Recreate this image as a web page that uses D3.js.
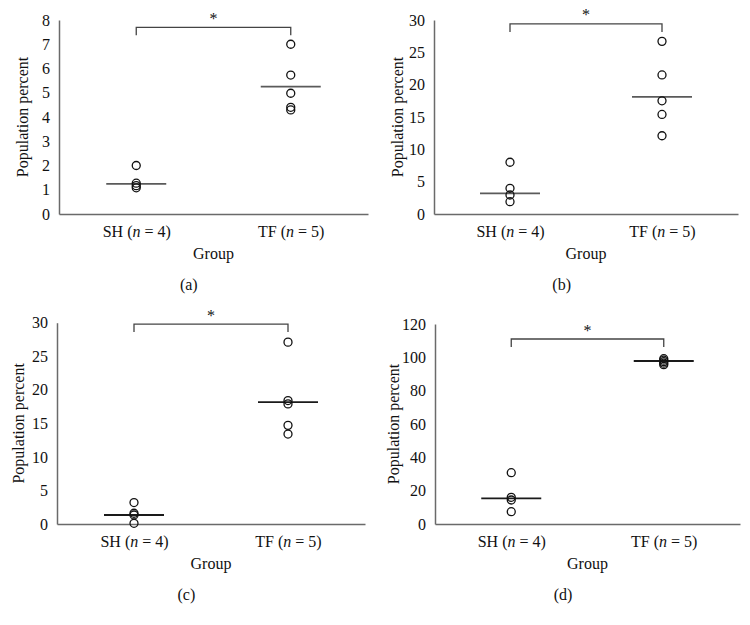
<!DOCTYPE html>
<html>
<head>
<meta charset="utf-8">
<script src="https://cdn.jsdelivr.net/npm/d3@7"></script>
<style>
body{margin:0;background:#fff;}
svg{display:block;font-family:"Liberation Serif","Times New Roman",serif;}
</style>
</head>
<body>
<svg id="chart" width="750" height="625"></svg>
<script>
// ---- data ----
const groups = ["SH", "TF"];
const groupN = [4, 5];
const panelLetters = ["a", "b", "c", "d"];
const yMax = [8, 30, 30, 120];
const yTickStep = [1, 5, 5, 20];
const shValues = [
  [2.0, 1.27, 1.17, 1.08],
  [8.0, 3.97, 2.94, 1.9],
  [3.2, 1.6, 1.34, 0.1],
  [30.8, 16.0, 14.4, 7.4]
];
const tfValues = [
  [7.0, 5.73, 4.98, 4.4, 4.29],
  [26.7, 21.5, 17.5, 15.4, 12.1],
  [27.1, 18.4, 17.9, 14.7, 13.4],
  [99.2, 98.3, 97.4, 96.5, 95.6]
];
const shLine = [1.24, 3.2, 1.34, 15.4];
const tfLine = [5.25, 18.1, 18.16, 97.8];
const bracketLevel = [7.7, 29.4, 29.8, 111];

// ---- layout ----
const panels = [
  {left: 59, right: 368, top: 20, bottom: 214, ylabX: 22, lineColor: "#5a5a5a"},
  {left: 434, right: 738, top: 20, bottom: 214, ylabX: 397, lineColor: "#5a5a5a"},
  {left: 57, right: 365, top: 322.7, bottom: 524, ylabX: 18, lineColor: "#1a1a1a"},
  {left: 435, right: 740, top: 324, bottom: 524, ylabX: 393, lineColor: "#1a1a1a"}
];

const svg = d3.select("#chart");
const FS = 16;

panels.forEach((p, i) => {
  const g = svg.append("g");
  const y = d3.scaleLinear().domain([0, yMax[i]]).range([p.bottom, p.top]);
  const x = d3.scalePoint().domain(groups).range([p.left, p.right]).padding(0.5);
  const ticks = d3.range(0, yMax[i] + 1e-9, yTickStep[i]);

  // y axis
  const ya = g.append("g").attr("transform", `translate(${p.left},0)`)
    .call(d3.axisLeft(y).tickValues(ticks).tickSize(0).tickPadding(9).tickFormat(d3.format("d")));
  ya.select(".domain").attr("stroke", "#6a6a6a").attr("stroke-width", 1.5);
  ya.selectAll("text").attr("font-size", FS).attr("font-family", "Liberation Serif").attr("fill", "#111");

  // x axis
  const xa = g.append("g").attr("transform", `translate(0,${p.bottom})`)
    .call(d3.axisBottom(x).tickSize(0).tickPadding(8).tickFormat(() => ""));
  xa.select(".domain").attr("stroke", "#6a6a6a").attr("stroke-width", 1.5);
  xa.selectAll(".tick").each(function(d, j) {
    const t = d3.select(this).select("text").attr("font-size", FS).attr("font-family", "Liberation Serif")
      .attr("fill", "#111").attr("dy", "0.95em");
    t.text(null);
    t.append("tspan").text(groups[j] + " (");
    t.append("tspan").attr("font-style", "italic").text("n");
    t.append("tspan").text(" = " + groupN[j] + ")");
  });

  // axis titles
  g.append("text").attr("x", (p.left + p.right) / 2).attr("y", p.bottom + 39)
    .attr("dy", "0.35em").attr("text-anchor", "middle").attr("font-size", FS).attr("fill", "#111").text("Group");
  g.append("text").attr("transform", `translate(${p.ylabX},${(p.top + p.bottom) / 2}) rotate(-90)`)
    .attr("dy", "0.35em").attr("text-anchor", "middle").attr("font-size", FS).attr("fill", "#111").text("Population percent");
  g.append("text").attr("x", p.left + (p.right - p.left) * 0.42).attr("y", p.bottom + 70)
    .attr("dy", "0.35em").attr("text-anchor", "middle").attr("font-size", FS).attr("fill", "#111").text("(" + panelLetters[i] + ")");

  // mean lines
  const lines = [shLine[i], tfLine[i]];
  g.selectAll("line.mean").data(groups).join("line").attr("class", "mean")
    .attr("x1", d => x(d) - 30).attr("x2", d => x(d) + 30)
    .attr("y1", (d, j) => y(lines[j])).attr("y2", (d, j) => y(lines[j]))
    .attr("stroke", p.lineColor).attr("stroke-width", 1.8);

  // points
  const pts = [];
  shValues[i].forEach(v => pts.push({g: "SH", v}));
  tfValues[i].forEach(v => pts.push({g: "TF", v}));
  g.selectAll("circle").data(pts).join("circle")
    .attr("cx", d => x(d.g)).attr("cy", d => y(d.v)).attr("r", 4)
    .attr("fill", "none").attr("stroke", "#111").attr("stroke-width", 1.3);

  // significance bracket
  const by = y(bracketLevel[i]);
  g.append("path")
    .attr("d", `M${x("SH")},${by + 8}V${by}H${x("TF")}V${by + 8}`)
    .attr("fill", "none").attr("stroke", "#444").attr("stroke-width", 1.3);
  g.append("text").attr("x", (x("SH") + x("TF")) / 2).attr("y", by - 9)
    .attr("dy", "0.35em").attr("text-anchor", "middle").attr("font-size", FS).attr("fill", "#111").text("*");
});
</script>
</body>
</html>
